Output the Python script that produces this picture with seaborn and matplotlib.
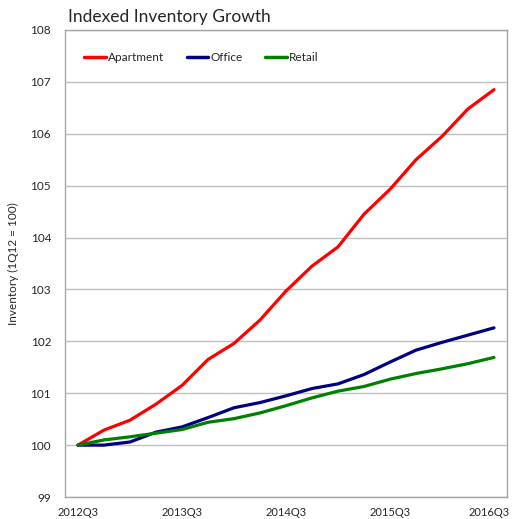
import matplotlib
matplotlib.use("Agg")
import matplotlib.pyplot as plt
import matplotlib.transforms as mtransforms
import seaborn as sns
import pandas as pd

quarters = ["2012Q3", "2012Q4", "2013Q1", "2013Q2", "2013Q3", "2013Q4", "2014Q1", "2014Q2",
            "2014Q3", "2014Q4", "2015Q1", "2015Q2", "2015Q3", "2015Q4", "2016Q1", "2016Q2", "2016Q3"]
apartment = [100.00, 100.29, 100.48, 100.79, 101.15, 101.65, 101.96, 102.41, 102.97, 103.45,
             103.82, 104.45, 104.93, 105.50, 105.95, 106.48, 106.85]
office = [100.00, 100.00, 100.06, 100.25, 100.35, 100.53, 100.72, 100.82, 100.95, 101.09,
          101.18, 101.36, 101.60, 101.83, 101.98, 102.12, 102.26]
retail = [100.00, 100.10, 100.16, 100.23, 100.30, 100.44, 100.51, 100.62, 100.76, 100.91,
          101.04, 101.13, 101.27, 101.38, 101.47, 101.57, 101.69]
series_names = ["Apartment", "Office", "Retail"]
colors = ["#FF0000", "#000080", "#008000"]
tick_labels = ["2012Q3", "2013Q3", "2014Q3", "2015Q3", "2016Q3"]

rows = []
for name, vals in zip(series_names, [apartment, office, retail]):
    for i, (q, v) in enumerate(zip(quarters, vals)):
        rows.append({"idx": i, "quarter": q, "value": v, "series": name})
df = pd.DataFrame(rows)

sns.set_style("white")
plt.rcParams["font.family"] = ["Lato", "DejaVu Sans"]

fig = plt.figure(figsize=(5.13, 5.19), dpi=100)
ax = fig.add_axes([65 / 513, 1 - 497 / 519, (507 - 65) / 513, (497 - 30) / 519])

sns.lineplot(data=df, x="idx", y="value", hue="series", palette=colors,
             hue_order=series_names, linewidth=2.3, ax=ax, legend=True)

ax.set_xlim(-0.5, 16.5)
ax.set_ylim(99, 108)
ax.set_yticks(range(99, 109))
ax.set_yticklabels([str(v) for v in range(99, 109)], fontsize=8.5)
tick_pos = [quarters.index(t) for t in tick_labels]
ax.set_xticks(tick_pos)
ax.set_xticklabels(tick_labels, fontsize=8)
ax.tick_params(axis="x", length=0, pad=7)
ax.tick_params(axis="y", length=0, pad=10)
ax.grid(axis="y", color="#BFBFBF", linewidth=1)
ax.set_axisbelow(True)
for s in ax.spines.values():
    s.set_color("#A6A6A6")
    s.set_linewidth(1)
ax.set_xlabel("")
ax.set_ylabel("Inventory (1Q12 = 100)", fontsize=8.5, labelpad=8)

# keep the last tick label inside the figure
last = ax.get_xticklabels()[-1]
last.set_transform(last.get_transform() +
                   mtransforms.ScaledTranslation(-5 / 100, 0, fig.dpi_scale_trans))

leg = ax.legend(loc="upper left", ncol=3, frameon=False, fontsize=8.5,
                bbox_to_anchor=(0.02, 0.975), handlelength=1.85, handletextpad=0.15,
                columnspacing=1.9)
for line in leg.get_lines():
    line.set_linewidth(2.5)

fig.text(68 / 513, 1 - 17 / 519, "Indexed Inventory Growth", fontsize=12.5,
         va="center", ha="left")

fig.savefig("out.png", dpi=100)
